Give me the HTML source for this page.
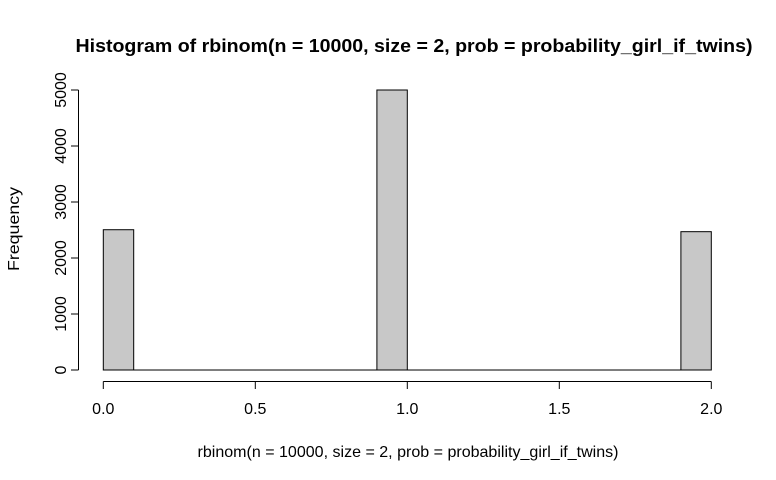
<!DOCTYPE html>
<html><head><meta charset="utf-8"><style>
html,body{margin:0;padding:0;background:#fff;}
svg{display:block;font-family:"Liberation Sans",Arial,sans-serif;}
</style></head><body>
<svg id="chart" width="776" height="480" viewBox="0 0 776 480">
<text x="414" y="52" text-anchor="middle" font-size="18" font-weight="bold" textLength="677" lengthAdjust="spacingAndGlyphs">Histogram of rbinom(n = 10000, size = 2, prob = probability_girl_if_twins)</text>
<text x="408" y="457" text-anchor="middle" font-size="16" textLength="421" lengthAdjust="spacingAndGlyphs">rbinom(n = 10000, size = 2, prob = probability_girl_if_twins)</text>
<text transform="translate(19,229) rotate(-90)" text-anchor="middle" font-size="16" textLength="84" lengthAdjust="spacingAndGlyphs">Frequency</text>
<g id="bars"></g>
<g id="xaxis"></g>
<g id="yaxis"></g>
</svg>
<script>
const breaks = [0,0.1,0.2,0.3,0.4,0.5,0.6,0.7,0.8,0.9,1.0,1.1,1.2,1.3,1.4,1.5,1.6,1.7,1.8,1.9,2.0];
const counts = [2505,0,0,0,0,0,0,0,0,5000,0,0,0,0,0,0,0,0,0,2470];
const xTicks = [0,0.5,1,1.5,2];
const xTickLabels = ["0.0","0.5","1.0","1.5","2.0"];
const yTicks = [0,1000,2000,3000,4000,5000];
const yTickLabels = ["0","1000","2000","3000","4000","5000"];

const NS="http://www.w3.org/2000/svg";
function X(v){return 103.3 + v*304;}
function Y(v){return 370 - v*0.056;}
function mk(tag,attrs,parent){const e=document.createElementNS(NS,tag);for(const k in attrs)e.setAttribute(k,attrs[k]);parent.appendChild(e);return e;}

const bars=document.getElementById('bars');
for(let i=0;i<counts.length;i++){
  const x0=X(breaks[i]),x1=X(breaks[i+1]),y=Y(counts[i]);
  const r=mk('rect',{x:x0,y:y,width:x1-x0,height:Math.max(Y(0)-y,0.01),fill:'#c8c8c8',stroke:'#000','stroke-width':1},bars);
  
  
}
const xa=document.getElementById('xaxis');
const xl=mk('line',{x1:X(xTicks[0]),x2:X(xTicks[xTicks.length-1]),y1:381.5,y2:381.5,stroke:'#000'},xa);


xTicks.forEach((t,i)=>{
  mk('line',{x1:X(t),x2:X(t),y1:381.5,y2:389,stroke:'#000'},xa);
  const tx=mk('text',{x:X(t),y:414,'text-anchor':'middle','font-size':16},xa);
  tx.textContent=xTickLabels[i];
  
  
});
const ya=document.getElementById('yaxis');
const yl=mk('line',{x1:78.5,x2:78.5,y1:Y(yTicks[0]),y2:Y(yTicks[yTicks.length-1]),stroke:'#000'},ya);


yTicks.forEach((t,i)=>{
  mk('line',{x1:71,x2:78.5,y1:Y(t),y2:Y(t),stroke:'#000'},ya);
  const tx=mk('text',{transform:`translate(66,${Y(t)}) rotate(-90)`,'text-anchor':'middle','font-size':16},ya);
  tx.textContent=yTickLabels[i];
  
  
});
</script>
</body></html>
